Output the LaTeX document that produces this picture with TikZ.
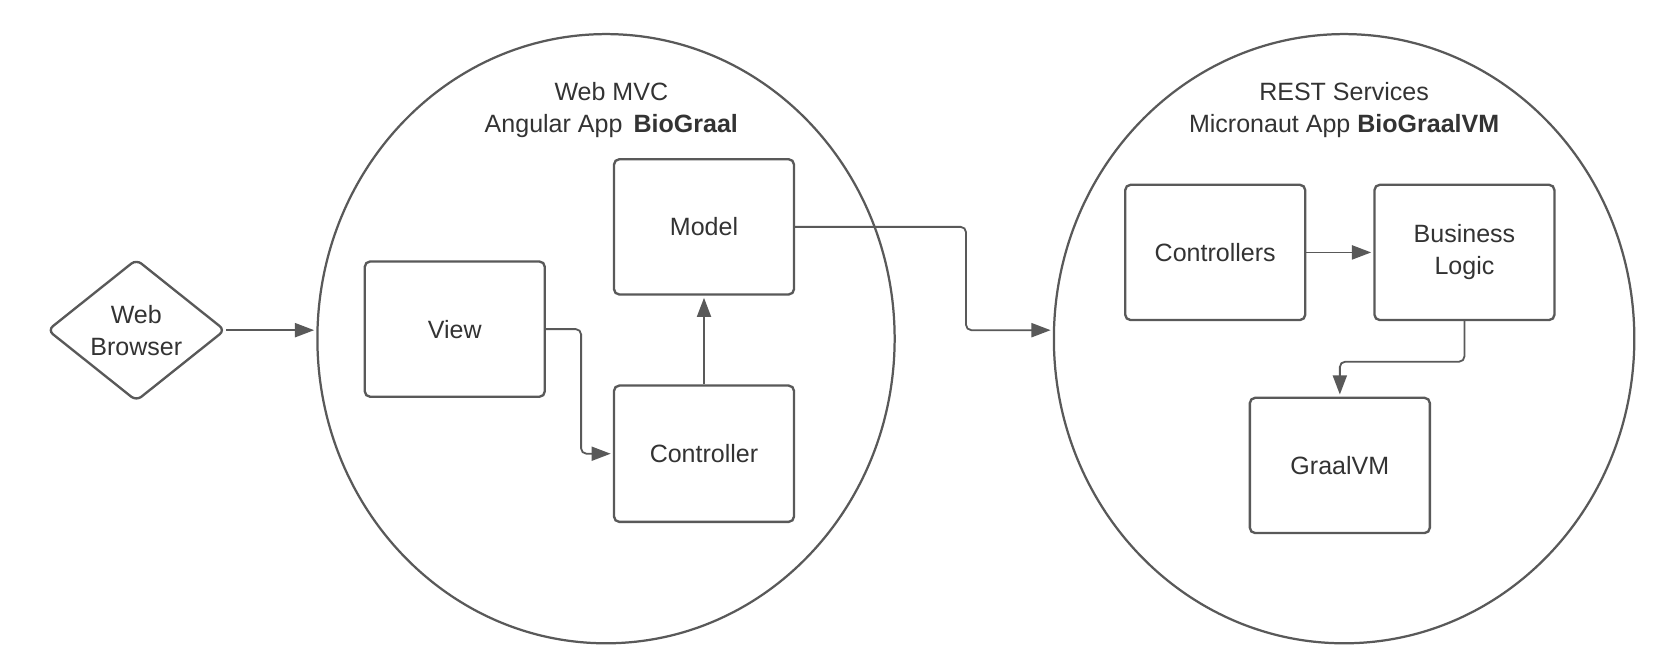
\documentclass[tikz,border=0pt]{standalone}
\usepackage{fontspec}
\setmainfont{Liberation Sans}
\usetikzlibrary{arrows.meta,shapes.geometric,calc}
\definecolor{linegray}{HTML}{595959}
\definecolor{textgray}{HTML}{333333}
\begin{document}
\begin{tikzpicture}[x=0.5pt,y=-0.5pt,
  every node/.style={text=textgray,font=\fontsize{11.75}{15}\selectfont},
  boxnode/.style={draw=linegray,line width=1.1pt,rounded corners=2.5pt,
    minimum width=84.5pt,minimum height=63.5pt,inner sep=0pt,align=center},
  bubble/.style={draw=linegray,line width=1.05pt,ellipse,inner sep=0pt},
  arr/.style={draw=linegray,line width=0.85pt,rounded corners=2.5pt,shorten >=1pt,
    -{Triangle[length=9pt,width=6.6pt]}}]
\useasboundingbox[fill=white] (0,0) rectangle (1568,618);
% bubbles
\node[bubble,minimum width=271pt,minimum height=286pt] (mvc) at (569,318) {};
\node[bubble,minimum width=272.5pt,minimum height=286pt] (rest) at (1262,318) {};
\node[align=center] (mvct) at (574,103) {Web MVC\\Angular App\, \textbf{BioGraal}};
\node[align=center] (restt) at (1262,103) {REST Services\\Micronaut App \textbf{BioGraalVM}};
% web browser
\node[diamond,draw=linegray,line width=1.1pt,rounded corners=3pt,inner sep=0pt,
  minimum width=83.5pt,minimum height=62.5pt,align=center] (wb) at (128,310) {Web\\Browser};
% MVC boxes
\node[boxnode] (model) at (661,213) {Model};
\node[boxnode] (view) at (427,309) {View};
\node[boxnode,minimum height=64pt] (ctrl) at (661,426) {Controller};
% REST boxes
\node[boxnode] (ctrls) at (1141,237) {Controllers};
\node[boxnode] (bl) at (1375,237) {Business\\Logic};
\node[boxnode] (gvm) at (1258,437) {GraalVM};
% connectors
\coordinate (k1) at (907,310);
\draw[arr] (wb.east) -- (wb.east -| mvc.west);
\draw[arr] (ctrl.north) -- (model.south);
\draw[arr] (view.east) -- ++(33,0) |- (ctrl.west);
\draw[arr] (model.east) -| (k1) -- (k1 -| rest.west);
\draw[arr] (ctrls.east) -- (bl.west);
\draw[arr] (bl.south) -- ++(0,38) -| (gvm.north);
\end{tikzpicture}
\end{document}
